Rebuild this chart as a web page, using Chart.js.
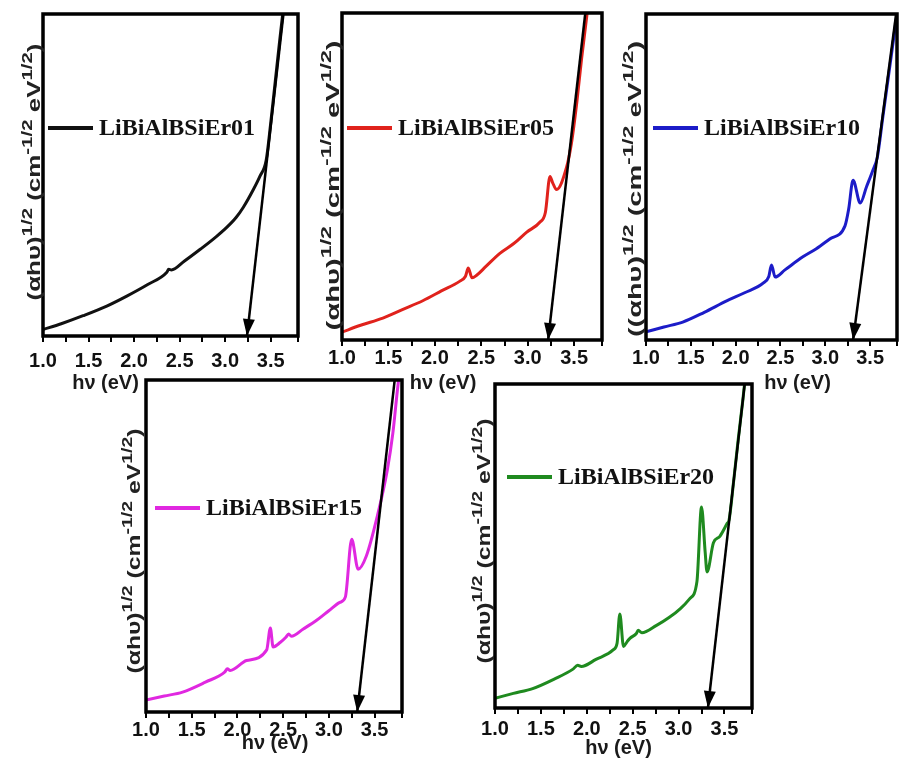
<!DOCTYPE html>
<html>
<head>
<meta charset="utf-8">
<title>Tauc plots LiBiAlBSiEr glasses</title>
<script src="https://cdn.jsdelivr.net/npm/chart.js@4.4.0/dist/chart.umd.min.js"></script>
<style>
  body { margin: 0; background: #fff; }
  #wrap { position: relative; width: 902px; height: 759px; overflow: hidden; background: #fff; }
  #wrap canvas { position: absolute; }
</style>
</head>
<body>
<div id="wrap"></div>
<script>
// photon energy (eV) vs (αhν)^1/2, plotted on a 0-100 relative scale
const energy01 = [1.00, 1.20, 1.44, 1.70, 1.92, 2.15, 2.36, 2.38, 2.41, 2.55, 2.73, 2.90, 3.02, 3.12, 3.20, 3.31, 3.38, 3.45, 3.50, 3.55, 3.60, 3.66];
const tauc01   = [2.0, 3.8, 6.3, 9.3, 12.4, 16.0, 19.8, 20.7, 20.5, 23.2, 27.0, 30.8, 33.8, 36.8, 40.0, 45.5, 49.5, 54.5, 66.0, 79.0, 92.0, 107.0];

const energy05 = [1.00, 1.20, 1.44, 1.65, 1.87, 2.07, 2.27, 2.33, 2.36, 2.40, 2.45, 2.55, 2.70, 2.85, 2.99, 3.13, 3.19, 3.24, 3.27, 3.31, 3.42, 3.47, 3.53, 3.58, 3.64, 3.67];
const tauc05   = [2.4, 4.5, 6.7, 9.3, 12.0, 15.0, 18.0, 19.5, 22.0, 19.0, 19.8, 22.5, 26.5, 29.5, 33.0, 36.0, 39.0, 50.0, 48.0, 46.0, 53.0, 60.0, 73.0, 86.0, 100.0, 106.0];

const energy10 = [1.00, 1.20, 1.41, 1.65, 1.90, 2.10, 2.31, 2.37, 2.40, 2.44, 2.55, 2.75, 2.90, 3.05, 3.22, 3.26, 3.31, 3.39, 3.46, 3.53, 3.58, 3.64, 3.70, 3.76, 3.82];
const tauc10   = [2.5, 4.0, 5.5, 8.5, 12.0, 14.5, 17.5, 19.5, 23.0, 19.3, 21.5, 25.5, 28.0, 31.0, 35.0, 40.0, 49.0, 42.0, 47.0, 52.0, 56.0, 68.0, 80.0, 92.0, 104.0];

const energy15 = [1.00, 1.20, 1.40, 1.65, 1.86, 1.89, 1.92, 2.10, 2.32, 2.36, 2.39, 2.47, 2.53, 2.56, 2.59, 2.72, 2.87, 3.00, 3.12, 3.18, 3.25, 3.32, 3.41, 3.53, 3.64, 3.70, 3.75, 3.78];
const tauc15   = [3.6, 4.8, 6.0, 9.0, 12.0, 13.0, 12.5, 15.5, 18.7, 25.3, 19.6, 21.0, 22.5, 23.5, 22.8, 25.0, 27.7, 30.5, 33.0, 34.6, 52.0, 43.0, 47.0, 59.0, 73.0, 84.0, 97.0, 104.0];

const energy20 = [1.00, 1.20, 1.41, 1.65, 1.85, 1.90, 1.94, 2.10, 2.29, 2.33, 2.36, 2.40, 2.44, 2.47, 2.54, 2.56, 2.60, 2.76, 2.90, 3.02, 3.12, 3.20, 3.25, 3.29, 3.31, 3.38, 3.45, 3.53, 3.55, 3.60, 3.65, 3.70, 3.73];
const tauc20   = [3.0, 4.5, 6.0, 9.0, 12.0, 13.2, 12.8, 15.0, 18.0, 20.0, 29.0, 19.0, 20.5, 21.5, 23.0, 24.0, 23.2, 25.5, 28.0, 30.7, 33.7, 39.0, 62.0, 48.0, 42.0, 51.0, 53.0, 57.0, 58.0, 70.0, 83.0, 95.0, 103.0];

// linear extrapolation of the absorption edge: energy at bottom and at top of the plot
const edge01 = [3.24, 3.64];
const edge05 = [3.22, 3.62];
const edge10 = [3.31, 3.79];
const edge15 = [3.31, 3.72];
const edge20 = [3.32, 3.72];
const edgeLevels = [0, 100];

const sampleNames = ['LiBiAlBSiEr01', 'LiBiAlBSiEr05', 'LiBiAlBSiEr10', 'LiBiAlBSiEr15', 'LiBiAlBSiEr20'];
const tickLabels = ['1.0', '1.5', '2.0', '2.5', '3.0', '3.5'];

const SANS = '"Liberation Sans", Arial, sans-serif';
const SERIF = '"Liberation Serif", "Times New Roman", serif';

// (αhυ)^1/2 (cm^-1/2 eV^1/2) split into normal / superscript pieces
const yTitle = [['(αhυ)', false], ['1/2', true], [' (cm', false], ['-1/2', true], [' eV', false], ['1/2', true], [')', false]];
const yTitle10 = [['((αhυ)', false], ['1/2', true], [' (cm', false], ['-1/2', true], [' eV', false], ['1/2', true], [')', false]];

const panels = [
  { id: 'er01', x: energy01, y: tauc01, edge: edge01, name: sampleNames[0], color: '#111111',
    box: { l: 43, t: 14, r: 298, b: 336 }, tickPad: 7, xdx: -65, xdy: 47,
    ydx: -3, ydy: -3, ylen: 257, title: yTitle, leg: { dx: 5, dy: 114 } },
  { id: 'er05', x: energy05, y: tauc05, edge: edge05, name: sampleNames[1], color: '#e0221c',
    box: { l: 342, t: 13, r: 602, b: 340 }, tickPad: 0, xdx: -29, xdy: 43,
    ydx: -3, ydy: 9, ylen: 290, title: yTitle, leg: { dx: 5, dy: 115 } },
  { id: 'er10', x: energy10, y: tauc10, edge: edge10, name: sampleNames[2], color: '#1c1cc8',
    box: { l: 646, t: 14, r: 897, b: 340 }, tickPad: 0, xdx: 26, xdy: 43,
    ydx: -5, ydy: 12, ylen: 296, title: yTitle10, leg: { dx: 7, dy: 114 } },
  { id: 'er15', x: energy15, y: tauc15, edge: edge15, name: sampleNames[3], color: '#e028e0',
    box: { l: 146, t: 380, r: 402, b: 712 }, tickPad: 0, xdx: 1, xdy: 31,
    ydx: -6, ydy: 5, ylen: 245, title: yTitle, leg: { dx: 9, dy: 128 } },
  { id: 'er20', x: energy20, y: tauc20, edge: edge20, name: sampleNames[4], color: '#1f8a1f',
    box: { l: 495, t: 384, r: 752, b: 708 }, tickPad: 3, xdx: -5, xdy: 40,
    ydx: -5, ydy: -5, ylen: 245, title: yTitle, leg: { dx: 12, dy: 93 } }
];

const PAD_L = 48, PAD_T = 8, PAD_R = 8, AXIS_H = 60;

// frame, arrowhead, legend and axis titles
const decorations = {
  id: 'decorations',
  afterDatasetsDraw(chart, args, opts) {
    const { ctx, chartArea: a } = chart;
    ctx.save();

    // arrowhead at the lower end of the extrapolation line
    const pts = chart.getDatasetMeta(1).data;
    const tip = pts[0], far = pts[1];
    const ang = Math.atan2(tip.y - far.y, tip.x - far.x);
    const len = 17, half = 6;
    const bx = tip.x - len * Math.cos(ang), by = tip.y - len * Math.sin(ang);
    ctx.fillStyle = '#000';
    ctx.beginPath();
    ctx.moveTo(tip.x, tip.y);
    ctx.lineTo(bx + half * Math.sin(ang), by - half * Math.cos(ang));
    ctx.lineTo(bx - half * Math.sin(ang), by + half * Math.cos(ang));
    ctx.closePath();
    ctx.fill();

    // plot frame
    ctx.strokeStyle = '#000';
    ctx.lineWidth = 3.5;
    ctx.strokeRect(a.left, a.top, a.right - a.left, a.bottom - a.top);

    // legend entry
    const ds = chart.data.datasets[0];
    const lx = a.left + opts.leg.dx, ly = a.top + opts.leg.dy;
    ctx.strokeStyle = ds.borderColor;
    ctx.lineWidth = 4;
    ctx.beginPath();
    ctx.moveTo(lx, ly);
    ctx.lineTo(lx + 45, ly);
    ctx.stroke();
    ctx.fillStyle = '#111';
    ctx.font = 'bold 24px ' + SERIF;
    ctx.textAlign = 'left';
    ctx.textBaseline = 'middle';
    ctx.fillText(ds.label, lx + 51, ly + 1);

    // x title
    ctx.fillStyle = '#1a1a1a';
    ctx.font = 'bold 20px ' + SANS;
    ctx.textAlign = 'center';
    ctx.fillText('hν (eV)', (a.left + a.right) / 2 + opts.xdx, a.bottom + opts.xdy);

    // y title, rotated, with superscripts, stretched to its run length
    const mainFont = 'bold 19px ' + SANS, supFont = 'bold 15px ' + SANS;
    let total = 0;
    for (const [t, s] of opts.title) { ctx.font = s ? supFont : mainFont; total += ctx.measureText(t).width; }
    ctx.fillStyle = '#222';
    ctx.translate(a.left + opts.ydx, (a.top + a.bottom) / 2 + opts.ydy);
    ctx.rotate(-Math.PI / 2);
    ctx.scale(opts.ylen / total, 1);
    ctx.textAlign = 'left';
    ctx.textBaseline = 'alphabetic';
    let pos = -total / 2;
    for (const [t, s] of opts.title) {
      ctx.font = s ? supFont : mainFont;
      ctx.fillText(t, pos, s ? -8 : 0);
      pos += ctx.measureText(t).width;
    }
    ctx.restore();
  }
};

const wrap = document.getElementById('wrap');

panels.forEach(p => {
  const w = (p.box.r - p.box.l) + PAD_L + PAD_R;
  const h = (p.box.b - p.box.t) + PAD_T + AXIS_H;
  const canvas = document.createElement('canvas');
  canvas.id = p.id;
  canvas.width = w;
  canvas.height = h;
  canvas.style.left = (p.box.l - PAD_L) + 'px';
  canvas.style.top = (p.box.t - PAD_T) + 'px';
  canvas.style.width = w + 'px';
  canvas.style.height = h + 'px';
  wrap.appendChild(canvas);

  new Chart(canvas.getContext('2d'), {
    type: 'line',
    data: {
      datasets: [{
        label: p.name,
        data: p.x.map((e, i) => ({ x: e, y: p.y[i] })),
        borderColor: p.color,
        borderWidth: 3,
        pointRadius: 0,
        cubicInterpolationMode: 'monotone',
        order: 1
      }, {
        label: 'edge',
        data: p.edge.map((e, i) => ({ x: e, y: edgeLevels[i] })),
        borderColor: '#000',
        borderWidth: 2.5,
        pointRadius: 0,
        order: 0
      }]
    },
    options: {
      responsive: false,
      animation: false,
      layout: { padding: { left: PAD_L, top: PAD_T, right: PAD_R, bottom: 0 } },
      plugins: {
        legend: { display: false },
        tooltip: { enabled: false },
        decorations: p
      },
      scales: {
        x: {
          type: 'linear',
          min: 1.0,
          max: 3.8,
          border: { display: false },
          grid: { drawOnChartArea: false, drawTicks: true, tickLength: 6, color: '#000', lineWidth: 2 },
          ticks: {
            stepSize: 0.25,
            autoSkip: false,
            maxRotation: 0,
            padding: p.tickPad,
            color: '#111',
            font: { family: SANS, size: 20, weight: 'bold' },
            callback: v => tickLabels.find(t => Math.abs(parseFloat(t) - v) < 1e-6) || ''
          },
          afterFit: s => { s.height = AXIS_H; }
        },
        y: { display: false, min: 0, max: 100 }
      }
    },
    plugins: [decorations]
  });
});
</script>
</body>
</html>
